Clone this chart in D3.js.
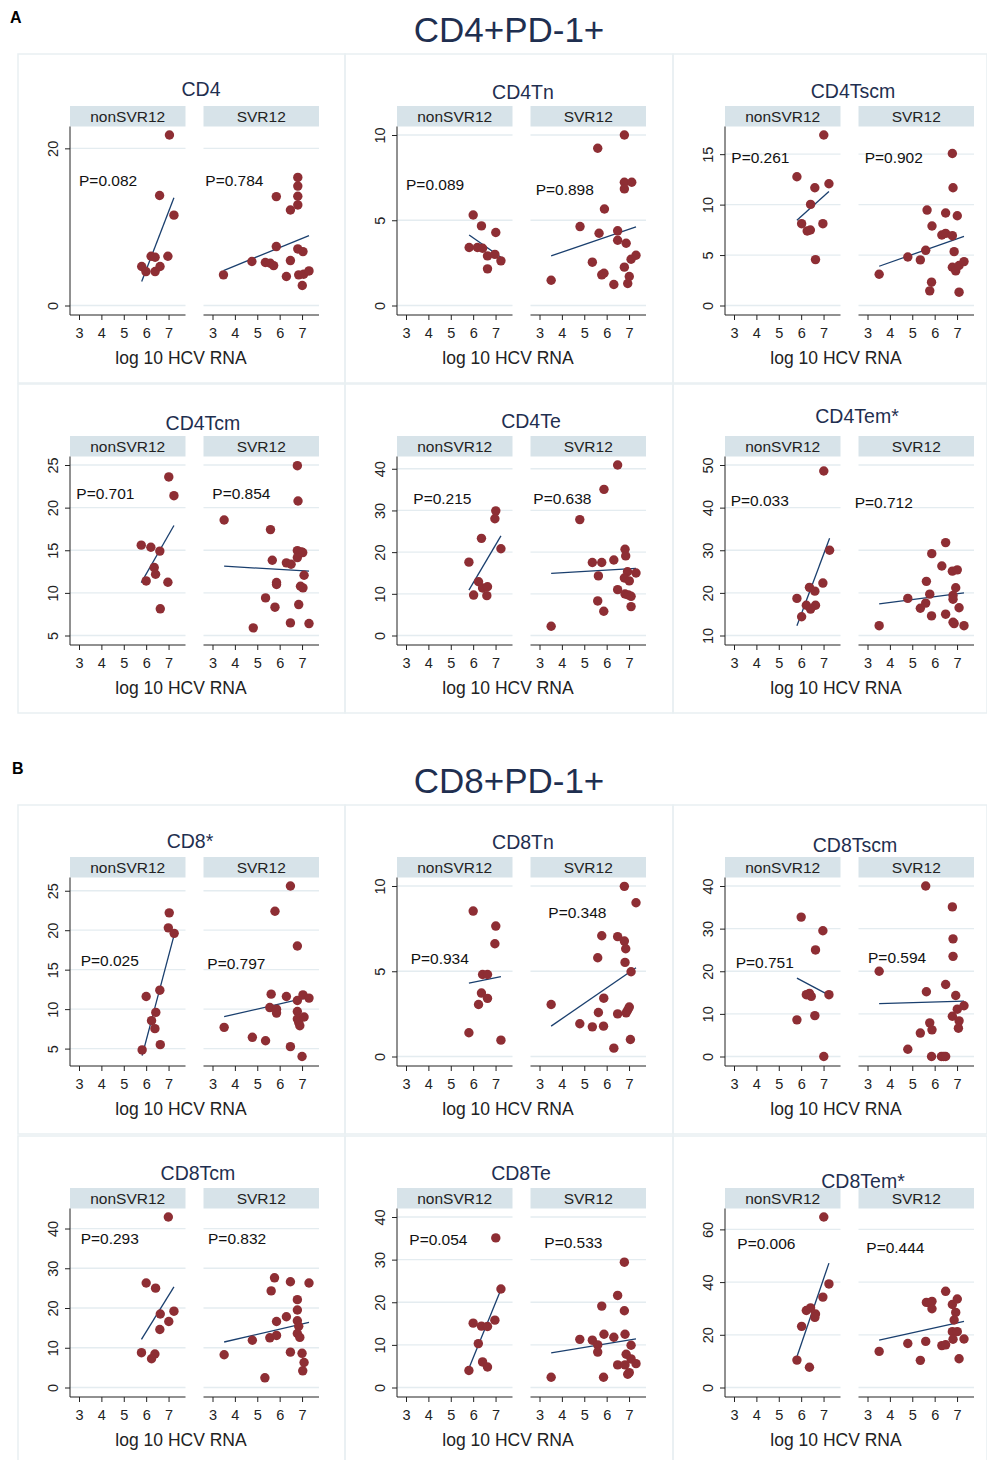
<!DOCTYPE html>
<html>
<head>
<meta charset="utf-8">
<script src="https://cdn.jsdelivr.net/npm/d3@7"></script>
<style>
  body { margin: 0; background: #fff; }
  text { font-family: "Liberation Sans", Arial, sans-serif; }
</style>
</head>
<body>
<svg id="chart" width="987" height="1460"></svg>
<script>
// ---- data ----
const sectionTitles = ["CD4+PD-1+", "CD8+PD-1+"];
const sectionLabels = ["A", "B"];
const panelNames = ["CD4", "CD4Tn", "CD4Tscm", "CD4Tcm", "CD4Te", "CD4Tem*",
                    "CD8*", "CD8Tn", "CD8Tscm", "CD8Tcm", "CD8Te", "CD8Tem*"];
const groupNames = ["nonSVR12", "SVR12"];
const xTitle = "log 10 HCV RNA";
const xTicks = [3, 4, 5, 6, 7];
const yTicks = [[0, 20], [0, 5, 10], [0, 5, 10, 15], [5, 10, 15, 20, 25], [0, 10, 20, 30, 40], [10, 20, 30, 40, 50],
                [5, 10, 15, 20, 25], [0, 5, 10], [0, 10, 20, 30, 40], [0, 10, 20, 30, 40], [0, 10, 20, 30, 40], [0, 20, 40, 60]];
const pNon = ["P=0.082", "P=0.089", "P=0.261", "P=0.701", "P=0.215", "P=0.033",
              "P=0.025", "P=0.934", "P=0.751", "P=0.293", "P=0.054", "P=0.006"];
const pSvr = ["P=0.784", "P=0.898", "P=0.902", "P=0.854", "P=0.638", "P=0.712",
              "P=0.797", "P=0.348", "P=0.594", "P=0.832", "P=0.533", "P=0.444"];

// [log10 HCV RNA, % PD-1+]
const cd4Non = [[7.04,21.7],[6.6,14.0],[7.24,11.5],[6.22,6.27],[6.4,6.14],[6.97,6.27],[5.8,4.96],[5.99,4.32],[6.4,4.32],[6.62,4.96]];
const cd4Svr = [[3.49,3.9],[4.76,5.6],[5.36,5.47],[5.58,5.38],[5.73,5.08],[5.85,13.86],[5.85,7.5],[6.3,3.69],[6.48,12.16],[6.48,5.72],[6.81,16.3],[6.81,15.2],[6.81,13.9],[6.81,12.8],[6.81,7.2],[7.04,6.86],[6.85,3.9],[7.07,3.98],[7.31,4.4],[7.01,2.54]];
const cd4TnNon = [[6.0,5.31],[6.37,4.67],[7.01,4.28],[5.82,3.4],[6.19,3.4],[6.42,3.36],[6.64,2.91],[6.97,3.0],[7.24,2.62],[6.64,2.15]];
const cd4TnSvr = [[3.52,1.48],[4.81,4.63],[5.36,2.54],[5.6,9.22],[5.66,4.24],[5.78,1.8],[5.88,1.89],[5.9,5.66],[6.32,1.23],[6.49,4.38],[6.49,3.83],[6.79,10.0],[6.79,7.23],[6.79,6.84],[7.12,7.23],[6.87,3.65],[6.79,2.25],[7.01,1.7],[6.94,1.29],[7.09,2.71],[7.31,2.95]];
const cd4TscmNon = [[7.01,16.9],[5.81,12.76],[6.61,11.67],[7.24,12.07],[6.42,10.02],[6.02,8.11],[6.97,8.11],[6.27,7.39],[6.41,7.48],[6.64,4.55]];
const cd4TscmSvr = [[3.52,3.1],[4.8,4.81],[5.36,4.52],[5.6,5.47],[5.66,9.46],[5.88,7.88],[5.86,2.31],[5.78,1.45],[6.32,6.99],[6.49,7.15],[6.49,9.17],[6.79,15.07],[6.82,11.67],[6.79,6.92],[6.87,5.34],[7.01,8.9],[6.79,3.79],[6.94,3.43],[7.09,3.96],[7.31,4.35],[7.09,1.32]];
const cd4TcmNon = [[7.01,23.6],[7.24,21.4],[5.78,15.6],[6.21,15.35],[6.61,14.9],[6.36,12.97],[6.42,12.19],[6.0,11.4],[6.97,11.25],[6.63,8.13]];
const cd4TcmSvr = [[3.52,18.55],[4.82,5.9],[5.37,9.41],[5.59,17.42],[5.67,13.83],[5.79,8.32],[5.86,11.21],[5.86,10.98],[6.3,13.52],[6.51,13.36],[6.48,6.48],[6.79,24.92],[6.82,20.78],[6.79,14.96],[6.97,14.8],[7.03,14.73],[6.79,14.14],[6.85,8.63],[6.93,10.78],[7.04,10.59],[7.09,12.07],[7.31,6.4]];
const cd4TeNon = [[7.01,29.9],[6.97,28.0],[6.37,23.3],[7.24,20.8],[5.81,17.6],[6.24,12.9],[6.42,11.4],[6.64,11.7],[6.02,9.7],[6.61,9.56]];
const cd4TeSvr = [[3.52,2.23],[4.8,27.8],[5.36,17.5],[5.63,14.3],[5.6,8.29],[5.78,17.5],[5.88,35.06],[5.87,5.82],[6.32,18.1],[6.49,40.9],[6.49,11.0],[6.82,20.7],[6.85,19.1],[6.93,15.3],[6.79,13.8],[7.01,13.1],[6.82,9.96],[6.97,9.72],[7.09,9.4],[7.09,6.93],[7.31,15.0]];
const cd4TemNon = [[7.01,48.6],[7.27,30.0],[6.97,22.3],[6.37,21.3],[6.61,20.4],[5.81,18.7],[6.23,17.1],[6.64,17.1],[6.42,16.2],[6.02,14.4]];
const cd4TemSvr = [[3.52,12.3],[4.8,18.7],[5.36,16.4],[5.6,17.6],[5.63,22.7],[5.78,19.7],[5.87,29.2],[5.86,14.6],[6.32,26.3],[6.49,31.8],[6.49,15.0],[6.79,25.1],[7.01,25.4],[6.94,21.2],[6.82,19.4],[6.82,18.5],[6.82,13.1],[6.87,12.8],[7.09,16.5],[7.31,12.3]];
const cd8Non = [[7.03,22.2],[6.99,20.3],[7.25,19.6],[6.0,11.6],[6.61,12.4],[6.43,9.59],[6.24,8.54],[6.39,7.53],[6.63,5.5],[5.82,4.83]];
const cd8Svr = [[3.52,7.69],[4.78,6.43],[5.37,6.0],[5.62,11.9],[5.79,22.4],[5.56,10.2],[5.86,10.0],[5.86,9.5],[6.3,11.6],[6.48,25.6],[6.48,5.25],[6.79,18.0],[6.79,11.1],[6.79,9.7],[6.79,8.75],[6.85,8.3],[6.9,7.9],[7.04,11.8],[7.09,9.0],[7.31,11.4],[7.0,4.0]];
const cd8TnNon = [[6.0,8.53],[7.01,7.65],[6.97,6.61],[6.42,4.81],[6.64,4.81],[6.37,3.72],[6.64,3.41],[6.24,3.05],[5.81,1.39],[7.24,0.96]];
const cd8TnSvr = [[3.52,3.05],[4.8,1.92],[5.36,1.74],[5.6,5.79],[5.63,2.58],[5.78,7.08],[5.87,3.42],[5.86,1.78],[6.32,0.49],[6.49,7.03],[6.49,2.5],[6.79,9.98],[6.79,6.77],[6.85,6.32],[6.82,5.52],[7.09,4.97],[6.87,2.56],[6.94,2.72],[7.01,2.9],[7.06,1.0],[7.31,9.02]];
const cd8TscmNon = [[6.0,32.7],[6.97,29.5],[6.64,25.0],[6.23,14.5],[6.37,14.8],[6.45,14.1],[7.24,14.5],[6.61,9.6],[5.81,8.6],[7.01,0.0]];
const cd8TscmSvr = [[3.52,20.0],[4.8,1.7],[5.36,5.5],[5.6,40.0],[5.63,15.2],[5.78,7.9],[5.88,6.25],[5.86,0.0],[6.3,0.0],[6.4,0.0],[6.49,0.0],[6.49,16.9],[6.79,35.1],[6.82,27.6],[6.82,23.5],[6.94,14.3],[6.79,9.45],[7.01,11.1],[7.09,8.36],[7.06,6.64],[7.31,11.9]];
const cd8TcmNon = [[6.99,42.9],[6.0,26.3],[6.42,25.0],[7.24,19.2],[6.63,18.5],[7.01,16.6],[6.61,14.6],[5.79,8.76],[6.39,8.42],[6.24,7.24]];
const cd8TcmSvr = [[3.52,8.25],[4.78,11.9],[5.34,2.44],[5.62,24.3],[5.56,12.5],[5.77,27.6],[5.86,13.1],[5.86,16.6],[6.3,17.8],[6.48,26.6],[6.48,8.9],[6.79,22.1],[6.79,19.5],[6.79,16.8],[6.85,15.4],[6.79,13.6],[6.9,12.6],[7.0,8.6],[7.09,6.3],[7.03,4.2],[7.31,26.3]];
const cd8TeNon = [[7.01,35.1],[7.24,23.1],[6.97,15.8],[6.0,15.1],[6.37,14.4],[6.64,14.3],[6.23,10.3],[6.42,6.0],[6.64,4.8],[5.81,4.0]];
const cd8TeSvr = [[3.52,2.4],[4.8,11.3],[5.36,11.1],[5.6,10.0],[5.6,8.3],[5.78,19.1],[5.88,12.5],[5.86,2.4],[6.32,11.8],[6.49,21.6],[6.49,5.3],[6.79,29.4],[6.79,18.0],[6.82,12.5],[6.87,7.8],[6.82,5.3],[7.01,3.5],[6.94,3.1],[7.09,9.9],[7.09,6.7],[7.31,5.6]];
const cd8TemNon = [[7.01,64.7],[7.24,39.3],[6.97,34.3],[6.42,30.2],[6.23,29.2],[6.64,27.9],[6.61,26.6],[6.02,23.2],[5.81,10.4],[6.37,7.7]];
const cd8TemSvr = [[3.52,13.7],[4.8,16.7],[5.36,10.3],[5.6,17.5],[5.63,32.3],[5.78,32.1],[5.88,32.7],[5.88,29.9],[6.32,15.9],[6.49,16.2],[6.49,36.5],[6.79,31.5],[6.94,28.5],[6.87,25.6],[7.01,33.6],[6.79,21.2],[7.01,21.2],[6.82,18.3],[7.09,10.9],[7.31,18.4]];

// fitted line: y at lowest x, y at highest x of the group
const fitNon = [[3.05,13.7],[4.14,2.83],[8.44,11.31],[11.2,17.9],[10.9,23.9],[12.3,32.8],
                [4.12,19.4],[4.31,4.68],[18.4,14.4],[12.1,25.3],[4.5,23.0],[11.7,47.2]];
const fitSvr = [[4.45,8.9],[2.91,4.61],[3.89,6.86],[13.13,12.54],[14.9,16.1],[17.4,20.0],
                [9.04,11.53],[1.78,5.21],[12.4,13.0],[11.45,16.4],[8.1,11.4],[18.0,25.1]];

const nonPoints = [cd4Non, cd4TnNon, cd4TscmNon, cd4TcmNon, cd4TeNon, cd4TemNon,
                   cd8Non, cd8TnNon, cd8TscmNon, cd8TcmNon, cd8TeNon, cd8TemNon];
const svrPoints = [cd4Svr, cd4TnSvr, cd4TscmSvr, cd4TcmSvr, cd4TeSvr, cd4TemSvr,
                   cd8Svr, cd8TnSvr, cd8TscmSvr, cd8TcmSvr, cd8TeSvr, cd8TemSvr];

// ---- layout ----
const colX = [18, 345, 673];
const colW = [327, 328, 314];
const rowY = [55, 385, 806, 1137];
const subX = [52, 185.5];
const subW = 115.5;
const plotTop = 71.5, plotBottom = 260;
// panel title centres and P label starts, relative to each panel
const titlePos = [[183,34],[178,37],[180,36],[185,38],[186,36],[184,31],[172,35],[178,36],[182,39],[180,36],[176,36],[190,44]];
const pNonPos = [[61,125.7],[61,129.3],[58.3,102.7],[58.3,108.3],[68.3,113.3],[57.7,116],[62.7,155],[65.7,152.3],[62.7,156.3],[62.7,101.3],[64.3,103],[64.3,107]];
const pSvrPos = [[187.3,126],[190.7,135],[191.7,102.7],[194.3,108.3],[188.3,113.3],[181.7,117.3],[189.3,157.3],[203.3,106.3],[195,151.7],[190,101.3],[199.3,105.7],[193.3,110.3]];

const navy = "#1f2f50";
const dotColor = "#8e2e34";
const lineColor = "#1a3f6e";
const stripFill = "#d7e3e9";
const gridColor = "#e4ecf0";

const svg = d3.select("#chart");

// section headers
sectionTitles.forEach((t, s) => {
    const top = s === 0 ? 0 : 751;
    svg.append("text")
        .attr("x", s === 0 ? 10 : 12).attr("y", top + 23)
        .attr("font-size", 16).attr("font-weight", "bold").attr("fill", "#000")
        .text(sectionLabels[s]);
    svg.append("text")
        .attr("x", 509).attr("y", top + 30).attr("dy", "0.35em")
        .attr("text-anchor", "middle").attr("font-size", 35).attr("fill", navy)
        .text(t);
});

panelNames.forEach((name, i) => {
    const row = Math.floor(i / 3), col = i % 3;
    const g = svg.append("g").attr("transform", `translate(${colX[col]},${rowY[row]})`);

    // faint panel frame
    g.append("rect")
        .attr("x", 0).attr("y", -1).attr("width", colW[col]).attr("height", 329)
        .attr("fill", "none").attr("stroke", "#e9eff2").attr("stroke-width", 1.5);

    g.append("text")
        .attr("x", titlePos[i][0]).attr("y", titlePos[i][1]).attr("dy", "0.35em")
        .attr("text-anchor", "middle").attr("font-size", 19.5).attr("fill", navy)
        .text(name);

    const groups = [nonPoints[i], svrPoints[i]];
    const fits = [fitNon[i], fitSvr[i]];
    const pTexts = [pNon[i], pSvr[i]];
    const pPos = [pNonPos[i], pSvrPos[i]];
    const all = groups[0].concat(groups[1]);
    const xDom = d3.extent(all.map(d => d[0]).concat(xTicks));
    const yDom = d3.extent(all.map(d => d[1]).concat(yTicks[i]));
    const y = d3.scaleLinear().domain(yDom).range([250.5, 80]);

    groupNames.forEach((gName, k) => {
        const sg = g.append("g").attr("transform", `translate(${subX[k]},0)`);
        const x = d3.scaleLinear().domain(xDom).range([9, 105.5]);

        // strip
        sg.append("rect")
            .attr("x", 0).attr("y", 51).attr("width", subW).attr("height", 20.5)
            .attr("fill", stripFill);
        sg.append("text")
            .attr("x", subW / 2).attr("y", 61.5).attr("dy", "0.35em")
            .attr("text-anchor", "middle").attr("font-size", 15.5).attr("fill", "#222")
            .text(gName);

        // grid
        sg.selectAll(".grid")
            .data(yTicks[i])
            .enter().append("line")
            .attr("x1", 0).attr("x2", subW)
            .attr("y1", d => y(d)).attr("y2", d => y(d))
            .attr("stroke", gridColor).attr("stroke-width", 1.3);

        // x axis
        const xAxis = sg.append("g")
            .attr("transform", `translate(0,${plotBottom})`)
            .call(d3.axisBottom(x).tickValues(xTicks).tickSize(5).tickPadding(7.5).tickFormat(d3.format("d")));
        xAxis.select(".domain").remove();
        xAxis.selectAll("line").attr("stroke", "#222");
        xAxis.selectAll("text").attr("font-size", 14.5).attr("fill", "#222")
            .style("font-family", '"Liberation Sans", Arial, sans-serif');
        sg.append("line")
            .attr("x1", 0).attr("x2", subW).attr("y1", plotBottom).attr("y2", plotBottom)
            .attr("stroke", "#222");

        // y axis only on the first group
        if (k === 0) {
            const yAxis = sg.append("g")
                .call(d3.axisLeft(y).tickValues(yTicks[i]).tickSize(5).tickFormat(d3.format("d")));
            yAxis.select(".domain").remove();
            yAxis.selectAll("line").attr("stroke", "#222");
            yAxis.selectAll("text")
                .attr("x", 0).attr("y", -12.5).attr("dy", "0")
                .attr("text-anchor", "middle").attr("transform", "rotate(-90)")
                .attr("font-size", 14.5).attr("fill", "#222")
                .style("font-family", '"Liberation Sans", Arial, sans-serif');
            sg.append("line")
                .attr("x1", 0).attr("x2", 0).attr("y1", plotTop).attr("y2", plotBottom)
                .attr("stroke", "#222");
        }

        // fitted line
        const xe = d3.extent(groups[k], d => d[0]);
        sg.append("line")
            .attr("x1", x(xe[0])).attr("y1", y(fits[k][0]))
            .attr("x2", x(xe[1])).attr("y2", y(fits[k][1]))
            .attr("stroke", lineColor).attr("stroke-width", 1.3);

        // points
        sg.selectAll(".dot")
            .data(groups[k])
            .enter().append("circle")
            .attr("cx", d => x(d[0]))
            .attr("cy", d => y(d[1]))
            .attr("r", 4.7)
            .attr("fill", dotColor);

        // P value
        g.append("text")
            .attr("x", pPos[k][0]).attr("y", pPos[k][1]).attr("dy", "0.35em")
            .attr("font-size", 15.5).attr("fill", "#111")
            .text(pTexts[k]);
    });

    g.append("text")
        .attr("x", 163).attr("y", 303).attr("dy", "0.35em")
        .attr("text-anchor", "middle").attr("font-size", 17.5).attr("fill", "#222")
        .text(xTitle);
});
</script>
</body>
</html>
